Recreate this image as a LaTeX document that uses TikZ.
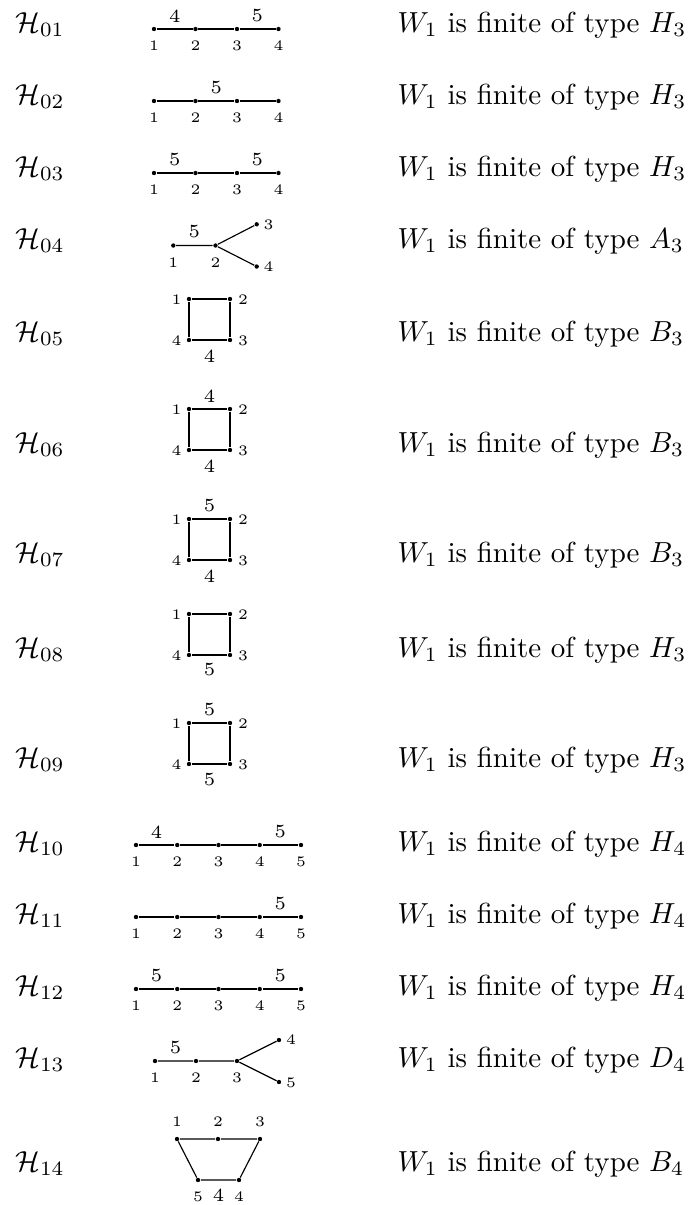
\documentclass[tikz,border=0pt]{standalone}
\begin{document}
\begin{tikzpicture}[x=0.3448pt, y=-0.3448pt,
  v/.style={circle, fill=black, inner sep=0pt, minimum size=1.5pt},
  vl/.style={inner sep=0pt, font=\fontsize{5}{6}\selectfont},
  el/.style={inner sep=0pt, font=\fontsize{6.4}{8}\selectfont},
  ed/.style={line width=0.4pt},
  rowlab/.style={anchor=base west, inner sep=0pt}]
\useasboundingbox (0,0) rectangle (688,1205);

% ---- row labels and texts
\foreach \k/\yb/\name/\typ in {1/32/01/H_3, 2/104/02/H_3, 3/176/03/H_3, 4/248/04/A_3,
  5/341/05/B_3, 6/452/06/B_3, 7/562/07/B_3, 8/657/08/H_3, 9/767/09/H_3,
  10/851/10/H_4, 11/923/11/H_4, 12/995/12/H_4, 13/1067/13/D_4, 14/1171/14/B_4}{
  \node[rowlab] (h\k) at (15,\yb) {$\mathcal{H}_{\name}$};
  \node[rowlab] (w\k) at (397,\yb) {$W_1$ is finite of type $\typ$};
}

% ---- rows 1-3: chains of four
\foreach \r/\y in {1/29, 2/101, 3/173}{
  \foreach \i/\x in {1/154, 2/195.5, 3/237, 4/278.5}{
    \node[v] (c\r n\i) at (\x,\y) {};
    \node[vl] (c\r l\i) at (\x,\y+17) {\i};
  }
  \draw[ed] (c\r n1) -- (c\r n2) -- (c\r n3) -- (c\r n4);
}
\node[el] (c1e1) at (174.75,16) {4};
\node[el] (c1e3) at (257.25,16) {5};
\node[el] (c2e2) at (216.25,88) {5};
\node[el] (c3e1) at (174.75,160) {5};
\node[el] (c3e3) at (257.25,160) {5};

% ---- row 4: branched
\node[v] (d1) at (173.3,245.5) {};
\node[v] (d2) at (215.5,245.5) {};
\node[v] (d3) at (256.7,224.3) {};
\node[v] (d4) at (256.7,266.5) {};
\draw[ed] (d1) -- (d2) -- (d3);
\draw[ed] (d2) -- (d4);
\node[el] (de) at (194.4,232) {5};
\node[vl] (dl1) at (173.3,262.5) {1};
\node[vl] (dl2) at (215.5,262.5) {2};
\node[vl] (dl3) at (268.5,224.5) {3};
\node[vl] (dl4) at (268.5,266.5) {4};

% ---- rows 5-9: squares
\foreach \s/\t in {5/299, 6/409, 7/519, 8/614, 9/723}{
  \node[v] (s\s a) at (189,\t) {};
  \node[v] (s\s b) at (230,\t) {};
  \node[v] (s\s c) at (230,\t+41) {};
  \node[v] (s\s d) at (189,\t+41) {};
  \draw[ed] (s\s a) -- (s\s b) -- (s\s c) -- (s\s d) -- (s\s a);
  \node[vl] (s\s la) at (176.5,\t+1) {1};
  \node[vl] (s\s lb) at (243,\t+1) {2};
  \node[vl] (s\s lc) at (243,\t+42) {3};
  \node[vl] (s\s ld) at (176.5,\t+42) {4};
}
\node[el] (s5bot) at (209.5,356) {4};
\node[el] (s6top) at (209.5,396) {4};
\node[el] (s6bot) at (209.5,466) {4};
\node[el] (s7top) at (209.5,506) {5};
\node[el] (s7bot) at (209.5,576) {4};
\node[el] (s8bot) at (209.5,670) {5};
\node[el] (s9top) at (209.5,710) {5};
\node[el] (s9bot) at (209.5,780) {5};

% ---- rows 10-12: chains of five
\foreach \r/\y in {10/845, 11/917, 12/989}{
  \foreach \i/\x in {1/136, 2/177.25, 3/218.5, 4/259.75, 5/301}{
    \node[v] (c\r n\i) at (\x,\y) {};
    \node[vl] (c\r l\i) at (\x,\y+17) {\i};
  }
  \draw[ed] (c\r n1) -- (c\r n2) -- (c\r n3) -- (c\r n4) -- (c\r n5);
}
\node[el] (c10e1) at (156.6,832) {4};
\node[el] (c10e4) at (280.4,832) {5};
\node[el] (c11e4) at (280.4,904) {5};
\node[el] (c12e1) at (156.6,976) {5};
\node[el] (c12e4) at (280.4,976) {5};

% ---- row 13: D4-like
\node[v] (t1) at (155,1061) {};
\node[v] (t2) at (196,1061) {};
\node[v] (t3) at (237,1061) {};
\node[v] (t4) at (279,1040) {};
\node[v] (t5) at (279,1082) {};
\draw[ed] (t1) -- (t2) -- (t3) -- (t4);
\draw[ed] (t3) -- (t5);
\node[el] (te) at (175.5,1048) {5};
\node[vl] (tl1) at (155,1078) {1};
\node[vl] (tl2) at (196,1078) {2};
\node[vl] (tl3) at (237,1078) {3};
\node[vl] (tl4) at (291,1040) {4};
\node[vl] (tl5) at (291,1083) {5};

% ---- row 14: trapezoid
\node[v] (p1) at (177,1139) {};
\node[v] (p2) at (218,1139) {};
\node[v] (p3) at (260,1139) {};
\node[v] (p4) at (239,1180) {};
\node[v] (p5) at (198,1180) {};
\draw[ed] (p1) -- (p2) -- (p3) -- (p4) -- (p5) -- (p1);
\node[vl] (pl1) at (177,1122) {1};
\node[vl] (pl2) at (218,1122) {2};
\node[vl] (pl3) at (260,1122) {3};
\node[vl] (pl4) at (239,1197) {4};
\node[vl] (pl5) at (198,1197) {5};
\node[el] (pe) at (218.5,1195) {4};
\end{tikzpicture}
\end{document}
